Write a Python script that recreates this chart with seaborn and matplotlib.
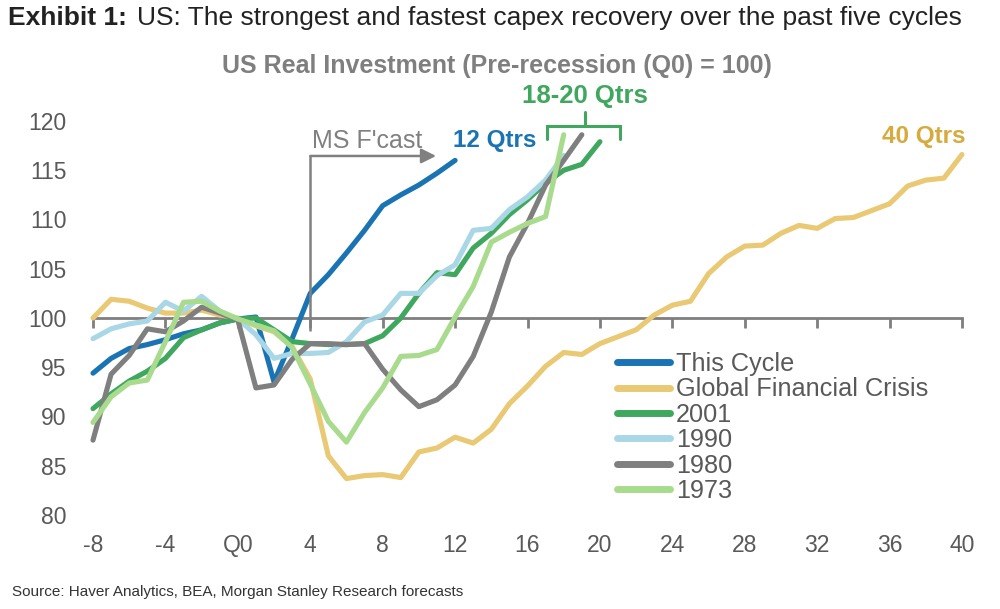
import matplotlib
matplotlib.use("Agg")
import matplotlib.pyplot as plt
import seaborn as sns
import pandas as pd
import numpy as np

# ---------------- data ----------------
series_names = ["This Cycle", "Global Financial Crisis", "2001", "1990", "1980", "1973"]

this_cycle = [94.4, 95.9, 96.9, 97.3, 97.8, 98.4, 98.8, 99.5, 99.9, 100.1, 93.5, 97.9,
              102.5, 104.4, 106.6, 108.9, 111.4, 112.5, 113.5, 114.7, 116.0]          # q=-8..12
gfc = [100.0, 101.9, 101.7, 101.0, 100.5, 100.5, 100.8, 100.3, 100.0, 99.2, 98.6, 97.1,
       93.8, 86.0, 83.7, 84.0, 84.1, 83.8, 86.4, 86.8, 87.9, 87.3, 88.7, 91.3, 93.1, 95.1,
       96.5, 96.3, 97.4, 98.1, 98.8, 100.3, 101.3, 101.7, 104.5, 106.2, 107.3, 107.4,
       108.6, 109.4, 109.1, 110.1, 110.2, 110.9, 111.6, 113.4, 114.0, 114.2, 116.6]      # q=-8..40
y2001 = [90.8, 92.3, 93.6, 94.6, 95.9, 98.0, 98.8, 99.5, 99.9, 100.0, 98.8, 97.6, 97.4,
         97.3, 97.3, 97.4, 98.2, 100.0, 102.5, 104.6, 104.4, 107.1, 108.6, 110.5, 112.0,
         113.7, 115.0, 115.6, 117.9]                                                   # q=-8..20
y1990 = [97.9, 98.9, 99.4, 99.7, 101.6, 100.7, 102.2, 100.7, 99.9, 98.3, 95.9, 96.4,
         96.4, 96.5, 97.6, 99.6, 100.3, 102.5, 102.5, 104.3, 105.4, 108.9, 109.1, 111.0,
         112.3, 114.0, 116.5]                                                          # q=-8..18
y1980 = [87.6, 94.3, 96.2, 98.9, 98.6, 99.7, 101.1, 100.5, 99.8, 92.9, 93.2, 95.8, 97.4,
         97.4, 97.3, 97.4, 94.8, 92.7, 91.0, 91.7, 93.2, 96.1, 100.6, 106.2, 109.6,
         113.5, 116.0, 118.6]                                                          # q=-8..19
y1973 = [89.4, 92.0, 93.4, 93.7, 97.6, 101.6, 101.7, 100.7, 99.9, 99.3, 98.7, 97.0,
         93.3, 89.5, 87.4, 90.4, 92.9, 96.1, 96.2, 96.8, 100.1, 103.2, 107.7, 108.7,
         109.6, 110.3, 118.6]                                                          # q=-8..18

x_ticks = list(range(-8, 41, 4))
x_labels = ["-8", "-4", "Q0", "4", "8", "12", "16", "20", "24", "28", "32", "36", "40"]
y_ticks = list(range(80, 121, 5))

colors = ["#1A74B3", "#E9C974", "#3FA75E", "#A9D7E5", "#7F7F7F", "#A9DB8E"]

all_values = [this_cycle, gfc, y2001, y1990, y1980, y1973]
frames = []
for name, vals in zip(series_names, all_values):
    frames.append(pd.DataFrame({"q": np.arange(-8, -8 + len(vals)), "value": vals, "series": name}))
df = pd.concat(frames, ignore_index=True)

# ---------------- figure ----------------
sns.set_style("white")
plt.rcParams["font.family"] = ["Liberation Sans", "DejaVu Sans"]

W, H = 1000, 609
fig = plt.figure(figsize=(W / 100, H / 100), dpi=100)
ax = fig.add_axes([93 / W, 1 - 515 / H, (962 - 93) / W, (515 - 121) / H])

sns.lineplot(data=df, x="q", y="value", hue="series", hue_order=series_names,
             palette=colors, linewidth=3.7, estimator=None, sort=False, ax=ax)
for ln in ax.lines:
    ln.set_clip_on(False)
    ln.set_solid_joinstyle("round")
    ln.set_solid_capstyle("round")

ax.set_xlim(-8, 40)
ax.set_ylim(80, 120)
ax.set_xlabel("")
ax.set_ylabel("")

for s in ["top", "right", "left"]:
    ax.spines[s].set_visible(False)
ax.spines["bottom"].set_position(("data", 100))
ax.spines["bottom"].set_color("#7F7F7F")
ax.spines["bottom"].set_linewidth(2)
ax.spines["bottom"].set_zorder(1)

ax.set_xticks(x_ticks)
ax.tick_params(axis="x", bottom=True, direction="out", length=7, width=2,
               color="#7F7F7F", labelbottom=False)
ax.set_yticks(y_ticks)
ax.tick_params(axis="y", left=False, length=0, pad=19, labelsize=16.5, labelcolor="#595959")

sec = ax.secondary_xaxis("bottom")
sec.set_xticks(x_ticks, labels=x_labels)
sec.tick_params(length=0, pad=14, labelsize=16.5, labelcolor="#595959")
sec.spines["bottom"].set_visible(False)

# forecast marker
grey = "#808080"
ax.plot([4, 4], [98.7, 116.45], color=grey, lw=1.8, solid_capstyle="butt", clip_on=False)
ax.annotate("", xy=(10.95, 116.45), xytext=(4, 116.45),
            arrowprops=dict(arrowstyle="-|>", color=grey, lw=1.8, mutation_scale=22,
                            shrinkA=0, shrinkB=0))
ax.text(4.1, 117.3, "MS F'cast", fontsize=18, color=grey, ha="left", va="baseline")

ax.text(11.9, 117.4, "12 Qtrs", fontsize=17.5, color="#1A74B3", fontweight="bold",
        ha="left", va="baseline")
ax.text(40.2, 117.8, "40 Qtrs", fontsize=17.5, color="#D6AA3C", fontweight="bold",
        ha="right", va="baseline")

green = "#3FA75E"
ax.plot([17.07, 17.07, 21.1, 21.1], [118.2, 119.5, 119.5, 118.2], color=green, lw=2.2,
        clip_on=False, solid_joinstyle="miter")
ax.plot([19.17, 19.17], [119.5, 120.9], color=green, lw=2.2, clip_on=False)
ax.text(19.2, 121.8, "18-20 Qtrs", fontsize=18.5, color=green, fontweight="bold",
        ha="center", va="baseline")

# legend
handles, labels = ax.get_legend_handles_labels()
leg = ax.legend(handles, labels, loc="upper left", bbox_to_anchor=(617 / W, 1 - 352 / H),
                bbox_transform=fig.transFigure, frameon=False, fontsize=18.2,
                handlelength=2.1, handletextpad=0.22, labelspacing=0.055, borderpad=0,
                borderaxespad=0, labelcolor="#595959")
for ln in leg.get_lines():
    ln.set_linewidth(5)
    ln.set_solid_capstyle("round")

# titles
t1 = fig.text(8 / W, 1 - 18 / H, "Exhibit 1:", fontsize=19, fontweight="bold",
              color="#222222", va="center", ha="left")
fig.canvas.draw()
bb = t1.get_window_extent(renderer=fig.canvas.get_renderer())
fig.text((bb.x1 + 10) / W, 1 - 18 / H, "US: The strongest and fastest capex recovery over the past five cycles",
         fontsize=19, color="#222222", va="center", ha="left")
fig.text(497 / W, 1 - 66 / H, "US Real Investment (Pre-recession (Q0) = 100)", fontsize=18,
         fontweight="bold", color="#7F7F7F", ha="center", va="center")
fig.text(12 / W, 1 - 592 / H, "Source: Haver Analytics, BEA, Morgan Stanley Research forecasts",
         fontsize=11, color="#333333", ha="left", va="center")

fig.savefig("out.png", dpi=100)
